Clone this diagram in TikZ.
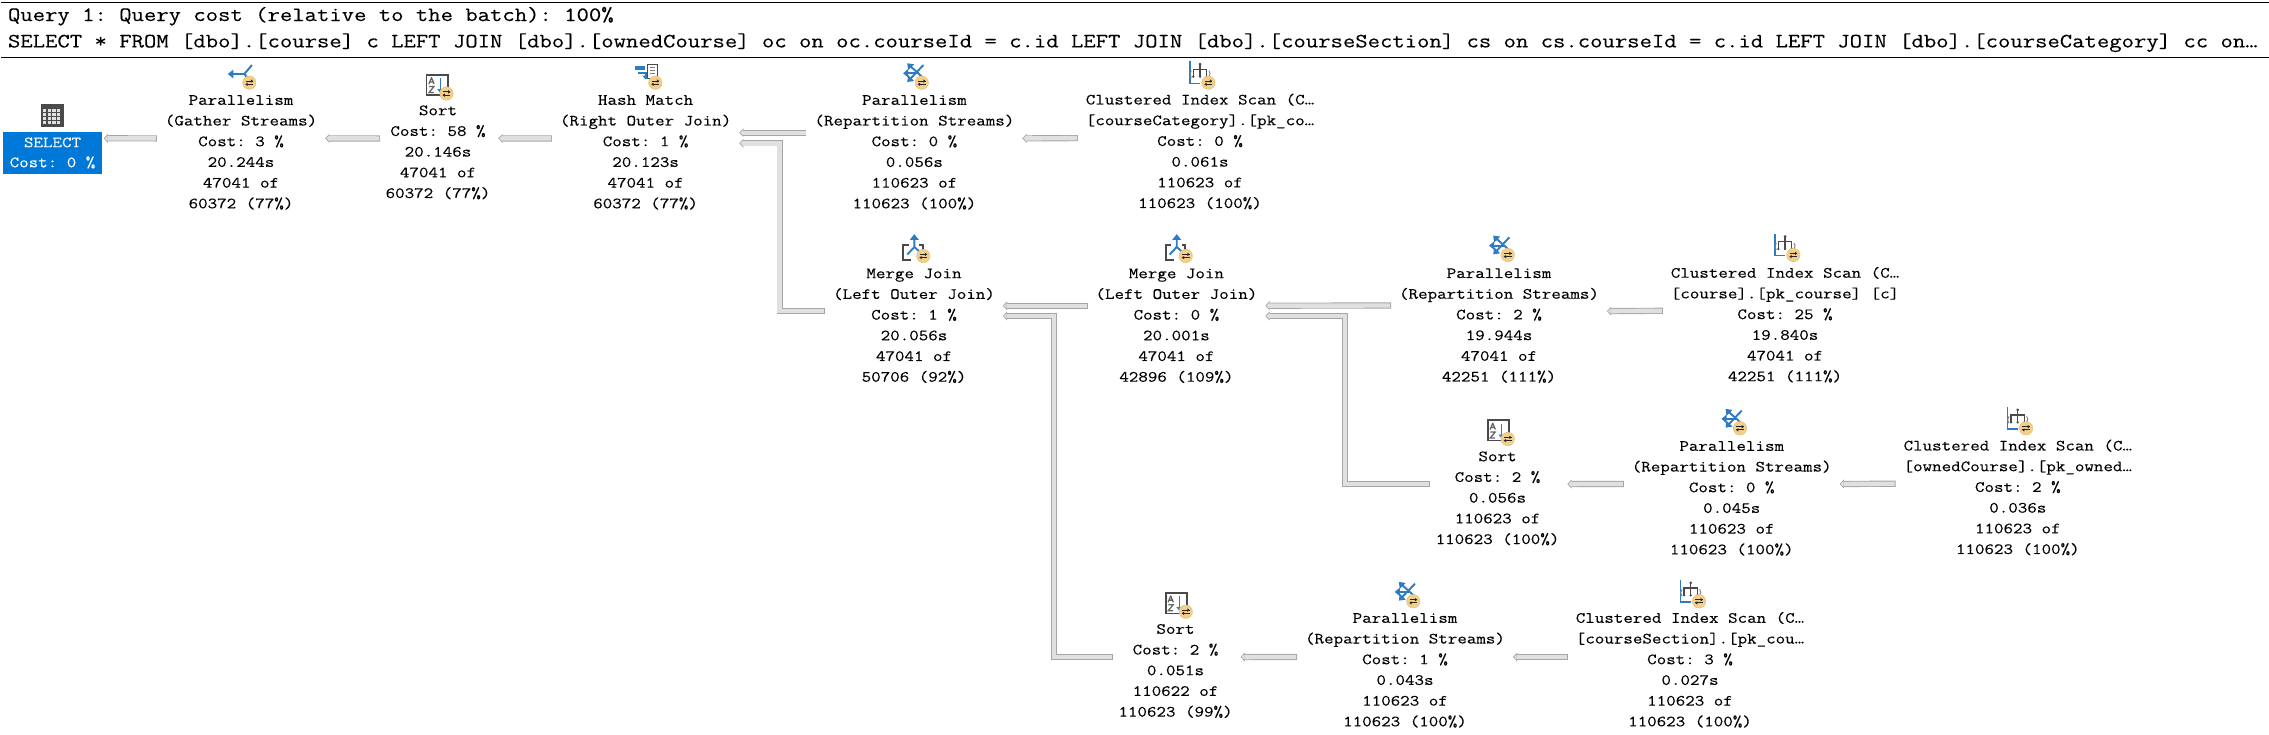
\documentclass[tikz,border=0pt]{standalone}
\usepackage{fontspec}
\setmonofont{Latin Modern Mono}[FakeStretch=1.18,FakeBold=0.15]
\usetikzlibrary{arrows.meta}
\definecolor{selblue}{HTML}{0078D7}
\definecolor{flowedge}{HTML}{A6A6A6}
\definecolor{flowfill}{HTML}{E0E0E0}
\definecolor{iconblue}{HTML}{2B7CC4}
\definecolor{icondark}{HTML}{4A4A4A}
\definecolor{badgefill}{HTML}{F3CF8C}
\definecolor{badgeedge}{HTML}{E6BF78}
\tikzset{
  op/.style={anchor=north,align=center,inner xsep=8pt,inner ysep=0pt,outer sep=0pt,
    font=\ttfamily\fontsize{15.66}{20.7}\selectfont},
  head/.style={anchor=base west,inner sep=0pt,outer sep=0pt,
    font=\ttfamily\fontsize{20.34}{24}\selectfont},
  rulebar/.style={draw=black,line width=1.2pt},
  flowout/.style={draw=flowedge,line width=6.2pt,line join=miter,
    -{Triangle[length=4.2pt,width=9pt,color=flowedge,fill=flowedge,line width=0pt]}},
  flowin/.style={draw=flowfill,line width=4.4pt,line join=miter,shorten >=1.1pt,shorten <=.9pt,
    -{Triangle[length=2.6pt,width=5.4pt,color=flowfill,fill=flowfill,line width=0pt]}},
  badge/.pic={
    \fill[badgefill,draw=badgeedge,line width=.5pt] (0,0) circle (6.7);
    \draw[black!85,line width=1pt] (-3.8,-1.6) -- (3.8,-1.6);
    \draw[black!85,line width=1pt] (-3.8,1.6) -- (3.8,1.6);
    \fill[black!85] (4,-1.6) -- (1.6,-3.3) -- (1.6,.1) -- cycle;
    \fill[black!85] (-4,1.6) -- (-1.6,-.1) -- (-1.6,3.3) -- cycle;
  },
  gathericon/.pic={
    \draw[iconblue,line width=1.9pt] (-19,-8.7) -- (-5,-8.7) -- (2.7,-17.7);
    \draw[iconblue,line width=1.9pt] (-5,-8.7) -- (0,-3);
    \fill[iconblue] (-21.5,-8.7) -- (-16,-13) -- (-16,-4.4) -- cycle;
    \pic {badge};
  },
  repicon/.pic={
    \draw[iconblue,line width=1.9pt] (-16,-9.4) -- (-3,-9.4);
    \draw[iconblue,line width=1.9pt] (-12.5,-17.5) -- (1.7,-4.7);
    \draw[iconblue,line width=1.9pt] (-12.5,-2.7) -- (1.7,-17.7);
    \fill[iconblue] (-18.6,-9.4) -- (-13.5,-13.7) -- (-13.5,-5.1) -- cycle;
    \fill[iconblue] (-14.5,-19.4) -- (-7.5,-18.4) -- (-13.5,-12.5) -- cycle;
    \fill[iconblue] (-14.5,-.7) -- (-7.5,-1.7) -- (-13.5,-7.6) -- cycle;
    \pic {badge};
  },
  scanicon/.pic={
    \draw[iconblue,line width=1.4pt] (-18.3,-21.5) -- (-18.3,.7) -- (-8.3,.7);
    \draw[icondark,line width=1.2pt] (-8.3,-18) -- (-8.3,-6);
    \draw[icondark,line width=1.2pt] (-15,-6.5) -- (-15,-13.4) -- (-1.6,-13.4) -- (-1.6,-6.5);
    \fill[icondark] (-8.3,-18.5) circle (1.5) (-15,-6) circle (1.3) (-8.3,-6) circle (1.3) (-1.6,-6) circle (1.3);
    \draw[gray,line width=.9pt] (-17,-12) .. controls (-18.7,-9) .. (-17,-5);
    \draw[gray,line width=.9pt] (.6,-12) .. controls (2.2,-9) .. (.6,-6);
    \pic {badge};
  },
  mergeicon/.pic={
    \draw[icondark,line width=1.7pt] (-14.5,-10.7) -- (-20,-10.7) -- (-20,4.3) -- (-12,4.3);
    \draw[icondark,line width=1.7pt] (-4,-10.7) -- (-.5,-10.7) -- (-.5,-6);
    \draw[iconblue,line width=1.9pt] (-9,-19) -- (-9,-9) -- (-16,-1.5);
    \draw[iconblue,line width=1.9pt] (-9,-9) -- (-3.3,-4);
    \fill[iconblue] (-9,-21.8) -- (-13.5,-16.2) -- (-4.5,-16.2) -- cycle;
    \pic {badge};
  },
  hashicon/.pic={
    \fill[iconblue] (-20,-16.7) rectangle (-10.7,-13.2);
    \draw[iconblue,line width=1.9pt] (-17,-10) -- (-9.5,-10) -- (-9.5,-6);
    \fill[iconblue] (-9.5,-3.2) -- (-13,-7) -- (-6,-7) -- cycle;
    \draw[icondark,line width=1pt,fill=white] (-7.5,-18.4) rectangle (1.7,-4.7);
    \draw[gray,line width=1pt] (-5.5,-15.5) -- (-.3,-15.5) (-5.5,-12.5) -- (-.3,-12.5) (-5.5,-9.5) -- (-.3,-9.5);
    \pic {badge};
  },
  sorticon/.pic={
    \fill[icondark] (-20.7,-20) rectangle (2,2.3);
    \fill[white] (-19.2,-17.6) rectangle (.5,.8);
    \draw[gray!80!black,line width=1.3pt,line join=round] (-17.6,-9.5) -- (-15,-15.8) -- (-12.4,-9.5) (-16.6,-11.6) -- (-13.4,-11.6);
    \draw[gray!80!black,line width=1.3pt] (-17.4,-7) -- (-12.6,-7) -- (-17.4,-1) -- (-12.6,-1);
    \draw[iconblue,line width=1.4pt] (-6,-15.5) -- (-6,-3);
    \fill[iconblue] (-6,-.5) -- (-9.3,-4.5) -- (-2.7,-4.5) -- cycle;
    \pic {badge};
  },
  gridicon/.pic={
    \fill[icondark] (-11.5,-11.5) rectangle (11.5,11.5);
    \foreach \cx in {-9.7,-5,-.3,4.4} \foreach \cy in {-6.6,-2.6,1.4,5.4} {
      \fill[black!12] (\cx,\cy) rectangle ++(3.4,2.6);
    }
  }
}
\newcommand{\flow}[1]{\draw[flowout] #1; \draw[flowin] #1;}
\begin{document}
\begin{tikzpicture}[x=1pt,y=-1pt]
\useasboundingbox (0,0) rectangle (2269,734);
\fill[white] (0,0) rectangle (2269,734);
\coordinate (ruleA) at (1,2.4);
\coordinate (ruleB) at (2269,2.4);
\coordinate (ruleC) at (1,57.4);
\coordinate (ruleD) at (2269,57.4);
\draw[rulebar] (ruleA) -- (ruleB);
\draw[rulebar] (ruleC) -- (ruleD);
\node[head] (hl1) at (8,21) {Query 1: Query cost (relative to the batch): 100\%};
\node[head] (hl2) at (8,47.4) {SELECT * FROM [dbo].[course] c LEFT JOIN [dbo].[ownedCourse] oc on oc.courseId = c.id LEFT JOIN [dbo].[courseSection] cs on cs.courseId = c.id LEFT JOIN [dbo].[courseCategory] cc on…};
% SELECT
\node[fill=selblue,text=white,minimum width=99pt,minimum height=41.7pt,inner sep=0pt,outer sep=0pt,align=center,
  font=\ttfamily\fontsize{15.66}{20}\selectfont] (sel) at (52.5,153) {SELECT\\Cost: 0 \%};
% Row 1
\node[op] (parG) at (241,90.3) {\strut Parallelism\\(Gather Streams)\\Cost: 3 \%\\20.244s\\47041 of\\60372 (77\%)\strut};
\node[op] (sortA) at (438,100.7) {\strut Sort\\Cost: 58 \%\\20.146s\\47041 of\\60372 (77\%)\strut};
\node[op] (hash) at (645.6,90.3) {\strut Hash Match\\(Right Outer Join)\\Cost: 1 \%\\20.123s\\47041 of\\60372 (77\%)\strut};
\node[op] (parR) at (914.4,90.3) {\strut Parallelism\\(Repartition Streams)\\Cost: 0 \%\\0.056s\\110623 of\\110623 (100\%)\strut};
\node[op] (clA) at (1200,90) {\strut Clustered Index Scan (C…\\{}[courseCategory].[pk\_co…\\Cost: 0 \%\\0.061s\\110623 of\\110623 (100\%)\strut};
% Row 2
\node[op] (mjA) at (914,263.7) {\strut Merge Join\\(Left Outer Join)\\Cost: 1 \%\\20.056s\\47041 of\\50706 (92\%)\strut};
\node[op] (mjB) at (1176.4,263.7) {\strut Merge Join\\(Left Outer Join)\\Cost: 0 \%\\20.001s\\47041 of\\42896 (109\%)\strut};
\node[op] (parB) at (1499,263.5) {\strut Parallelism\\(Repartition Streams)\\Cost: 2 \%\\19.944s\\47041 of\\42251 (111\%)\strut};
\node[op] (clB) at (1785,263.2) {\strut Clustered Index Scan (C…\\{}[course].[pk\_course] [c]\\Cost: 25 \%\\19.840s\\47041 of\\42251 (111\%)\strut};
% Row 3
\node[op] (sortB) at (1497.5,446.7) {\strut Sort\\Cost: 2 \%\\0.056s\\110623 of\\110623 (100\%)\strut};
\node[op] (parC) at (1731.7,436.3) {\strut Parallelism\\(Repartition Streams)\\Cost: 0 \%\\0.045s\\110623 of\\110623 (100\%)\strut};
\node[op] (clC) at (2017.8,436) {\strut Clustered Index Scan (C…\\{}[ownedCourse].[pk\_owned…\\Cost: 2 \%\\0.036s\\110623 of\\110623 (100\%)\strut};
% Row 4
\node[op] (sortC) at (1175.5,619.3) {\strut Sort\\Cost: 2 \%\\0.051s\\110622 of\\110623 (99\%)\strut};
\node[op] (parD) at (1405,608.3) {\strut Parallelism\\(Repartition Streams)\\Cost: 1 \%\\0.043s\\110623 of\\110623 (100\%)\strut};
\node[op] (clD) at (1690,608.3) {\strut Clustered Index Scan (C…\\{}[courseSection].[pk\_cou…\\Cost: 3 \%\\0.027s\\110623 of\\110623 (100\%)\strut};
% Icons
\pic at (52.5,115.7) {gridicon};
\pic at (249.3,82.7) {gathericon};
\pic at (446.5,93.5) {sorticon};
\pic at (655.3,82.7) {hashicon};
\pic at (921.7,82.7) {repicon};
\pic at (1208.3,82.7) {scanicon};
\pic at (923.3,256) {mergeicon};
\pic at (1185.7,256) {mergeicon};
\pic at (1507.7,255) {repicon};
\pic at (1793.3,255) {scanicon};
\pic at (1507.7,439) {sorticon};
\pic at (1740,428.3) {repicon};
\pic at (2026,428.3) {scanicon};
\pic at (1185.7,611.7) {sorticon};
\pic at (1413.3,601.3) {repicon};
\pic at (1699,601.3) {scanicon};
% Connectors
\flow{([yshift=14pt]parG.west) -- ([xshift=1.7pt,yshift=14.7pt]sel.east)}
\flow{([xshift=2.5pt,yshift=14pt]sortA.west) -- ([yshift=14pt]parG.east)}
\flow{([yshift=14pt]hash.west) -- ([yshift=14pt]sortA.east)}
\flow{([yshift=19.7pt]parR.west) -- ([yshift=19.7pt]hash.east)}
\flow{([yshift=14pt]clA.west) -- ([yshift=14pt]parR.east)}
\flow{([yshift=14.8pt]mjA.west) -- ++(-45.5,0) |- ([yshift=9.1pt]hash.east)}
\flow{([yshift=20.1pt]mjB.west) -- ([yshift=20.1pt]mjA.east)}
\flow{([xshift=2.5pt,yshift=14.3pt]sortC.west) -- ++(-58.7,0) |- ([yshift=9.8pt]mjA.east)}
\flow{([yshift=20.1pt]parB.west) -- ([yshift=20.1pt]mjB.east)}
\flow{([xshift=2pt,yshift=14.4pt]sortB.west) -- ++(-84.8,0) |- ([yshift=9.8pt]mjB.east)}
\flow{([yshift=14.5pt]clB.west) -- ([yshift=14.5pt]parB.east)}
\flow{([yshift=14.4pt]parC.west) -- ([yshift=14.4pt]sortB.east)}
\flow{([yshift=14.4pt]clC.west) -- ([yshift=14.4pt]parC.east)}
\flow{([yshift=13.4pt]parD.west) -- ([yshift=14pt]sortC.east)}
\flow{([yshift=13.4pt]clD.west) -- ([yshift=13.4pt]parD.east)}
\end{tikzpicture}
\end{document}
